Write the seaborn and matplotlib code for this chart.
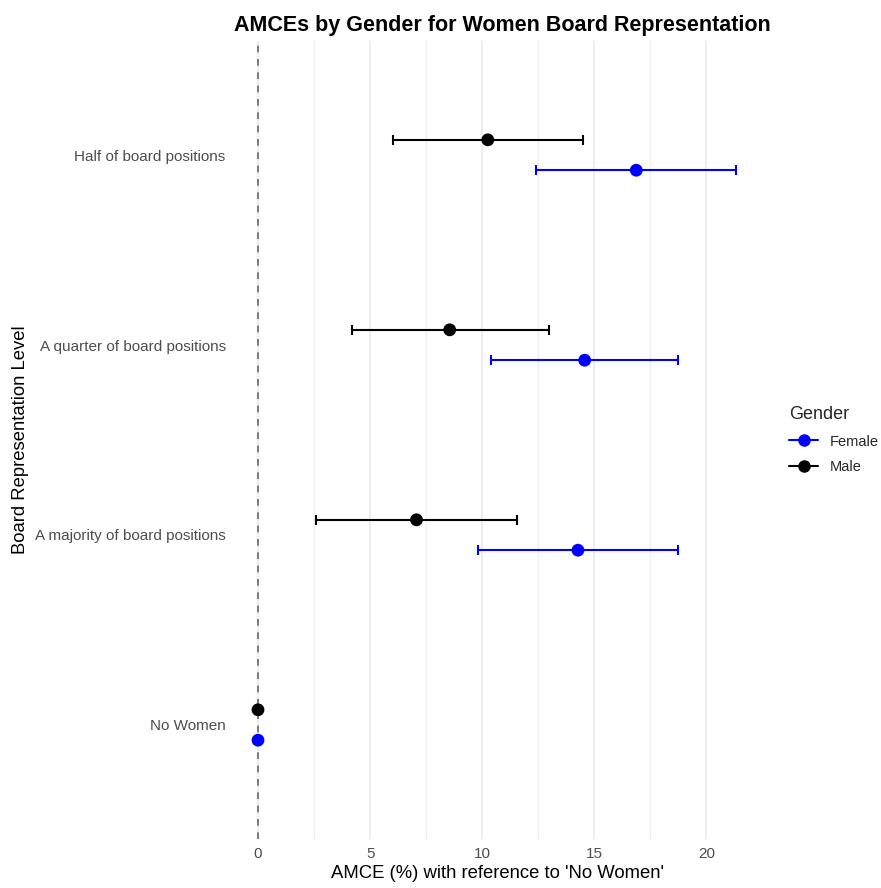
import matplotlib
matplotlib.use("Agg")
import matplotlib.pyplot as plt
from matplotlib.lines import Line2D
import seaborn as sns
import pandas as pd
import numpy as np

# Attribute levels (bottom to top) and AMCE estimates with 95% CIs
levels = ["No Women", "A majority of board positions",
          "A quarter of board positions", "Half of board positions"]
genders = ["Female", "Male"]

female_est = [0.0, 14.27, 14.57, 16.87]
female_lo = [0.0, 9.83, 10.38, 12.38]
female_hi = [0.0, 18.75, 18.75, 21.32]

male_est = [0.0, 7.07, 8.55, 10.25]
male_lo = [0.0, 2.60, 4.20, 6.01]
male_hi = [0.0, 11.54, 12.96, 14.50]

palette = {"Female": "#0000FF", "Male": "#000000"}
dodge = {"Female": -0.08, "Male": 0.08}

rows = []
for g, est, lo, hi in [("Female", female_est, female_lo, female_hi),
                       ("Male", male_est, male_lo, male_hi)]:
    for i, lvl in enumerate(levels):
        rows.append({"level": lvl, "gender": g, "estimate": est[i],
                     "lower": lo[i], "upper": hi[i],
                     "ypos": i + dodge[g]})
df = pd.DataFrame(rows)

sns.set_theme(style="white")
plt.rcParams["font.family"] = ["Liberation Sans", "DejaVu Sans"]

fig = plt.figure(figsize=(8.81, 8.88), dpi=100)
ax = fig.add_axes([0.2656, 0.0552, 0.8627 - 0.2656, 0.9538 - 0.0552])

# light vertical grid (major + minor)
for xv in [0, 5, 10, 15, 20]:
    ax.axvline(xv, color="#e8e8e8", lw=1.1, zorder=0)
for xv in [2.5, 7.5, 12.5, 17.5]:
    ax.axvline(xv, color="#eeeeee", lw=0.9, zorder=0)

# reference line at zero
ax.axvline(0, color="#666666", lw=1.2, ls=(0, (4, 4)), zorder=1)

# confidence intervals
for g in genders:
    sub = df[df["gender"] == g]
    sub = sub[sub["upper"] > sub["lower"]]
    ax.errorbar(sub["estimate"], sub["ypos"],
                xerr=[sub["estimate"] - sub["lower"], sub["upper"] - sub["estimate"]],
                fmt="none", ecolor=palette[g], elinewidth=1.5,
                capsize=3.6, capthick=1.5, zorder=2)

sns.scatterplot(data=df, x="estimate", y="ypos", hue="gender",
                hue_order=genders, palette=palette, s=85,
                edgecolor="none", legend=False, ax=ax, zorder=3)

ax.set_xlim(-1.07, 22.39)
ax.set_ylim(-0.6, 3.6)
ax.set_xticks([0, 5, 10, 15, 20])
ax.set_yticks(range(len(levels)))
ax.set_yticklabels(levels)
ax.tick_params(axis="both", length=0, labelsize=11, labelcolor="#4d4d4d", pad=6)
for s in ax.spines.values():
    s.set_visible(False)

ax.set_xlabel("AMCE (%) with reference to 'No Women'", fontsize=13.3,
              color="#000000", labelpad=3)
ax.set_ylabel("Board Representation Level", fontsize=13.3, color="#000000",
              labelpad=4)
ax.set_title("AMCEs by Gender for Women Board Representation",
             fontsize=15.5, fontweight="bold", loc="left", pad=7,
             color="#000000")

handles = [Line2D([0], [0], color=palette[g], lw=1.5, marker="o",
                  markersize=8, label=g) for g in genders]
leg = ax.legend(handles=handles, title="Gender", frameon=False,
                loc="center left", bbox_to_anchor=(1.03, 0.5),
                fontsize=10.5, title_fontsize=13, handlelength=2.0,
                labelspacing=0.8)
leg._legend_box.align = "left"

fig.savefig("out.png", dpi=100)
